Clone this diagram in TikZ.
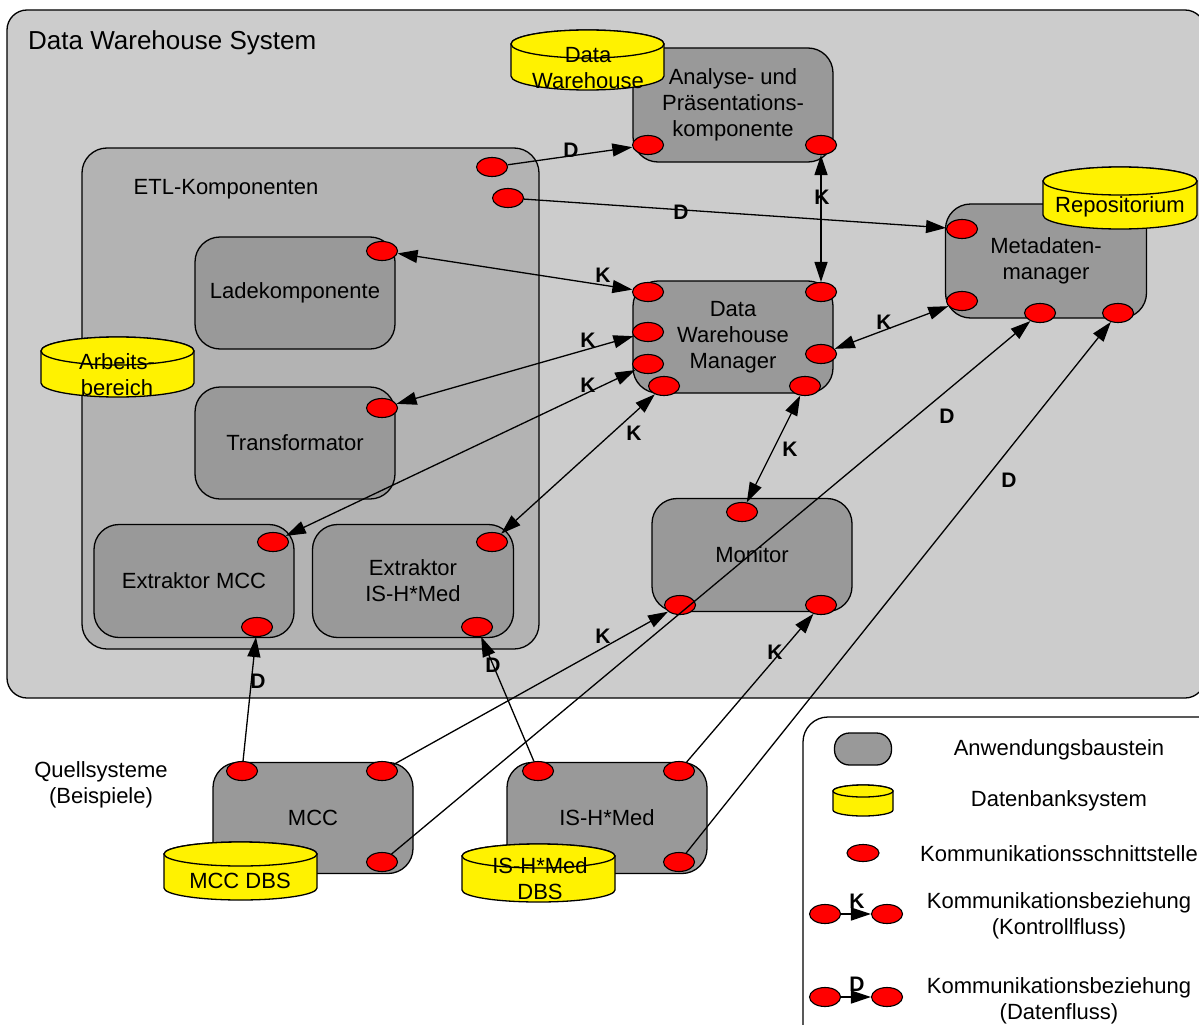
\documentclass[tikz,border=0pt]{standalone}
\usepackage{fontspec}
\setmainfont{Liberation Sans}
\usetikzlibrary{arrows.meta,shapes.geometric}

\definecolor{sysgray}{HTML}{CCCCCC}
\definecolor{etlgray}{HTML}{B3B3B3}
\definecolor{compgray}{HTML}{999999}

\tikzset{
  comp/.style={rectangle, draw=black, line width=1.3pt, fill=compgray, rounded corners=25pt,
    minimum width=200pt, minimum height=112pt, inner sep=0pt, align=center,
    font=\fontsize{22}{26}\selectfont},
  port/.style={ellipse, draw=black, line width=1.1pt, fill=red,
    minimum width=31pt, minimum height=19pt, inner sep=0pt},
  tip/.tip={Triangle[length=20pt,width=13pt]},
  flow/.style={line width=1.3pt, -tip},
  both/.style={line width=1.3pt, tip-tip},
  lbl/.style={font=\fontsize{21}{24}\selectfont\bfseries, inner sep=0pt},
  txt/.style={font=\fontsize{22}{26}\selectfont, align=center, inner sep=0pt},
  dbfill/.style={fill=yellow, draw=black, line width=1.3pt},
}

% database cylinder: left, right, top, bottom, vertical radius of the end caps
\newcommand\dbcyl[5]{%
  \pgfmathsetmacro\dbcx{(#1+#2)/2}%
  \pgfmathsetmacro\dbrx{(#2-#1)/2}%
  \pgfmathsetmacro\dbya{#3+#5}%
  \pgfmathsetmacro\dbyb{#4-#5}%
  \path[dbfill] (#1,\dbya) -- (#1,\dbyb)
    arc[start angle=180, end angle=0, x radius=\dbrx, y radius=#5]
    -- (#2,\dbya)
    arc[start angle=0, end angle=-180, x radius=\dbrx, y radius=#5] -- cycle;
  \path[dbfill] (\dbcx,\dbya) ellipse[x radius=\dbrx, y radius=#5];
}

\begin{document}
\begin{tikzpicture}[x=1pt, y=-1pt]
\useasboundingbox (0,0) rectangle (1199,1025);
\clip (0,0) rectangle (1199,1025);
\fill[white] (0,0) rectangle (1199,1025);

% containers
\draw[fill=sysgray, line width=1.3pt, rounded corners=20pt] (7,10) rectangle (1205,698);
\node[anchor=west, inner sep=0pt, font=\fontsize{26}{30}\selectfont] (systitle) at (28,43) {Data Warehouse System};

\draw[fill=etlgray, line width=1.3pt, rounded corners=25pt] (82,148) rectangle (539,649);
\node[txt] (etltitle) at (226,189) {ETL-Komponenten};

% application components
\node[comp] (lade)  at (295,293) {Ladekomponente};
\node[comp] (trans) at (295,443) {Transformator};
\node[comp, minimum height=113pt] (exm) at (194,581) {Extraktor MCC};
\node[comp, minimum height=113pt, minimum width=201pt] (exi) at (413,581) {Extraktor\\IS-H*Med};
\node[comp, minimum height=114pt] (ana) at (733,105) {Analyse- und\\Präsentations-\\komponente};
\node[comp] (dwm) at (733,337) {Data\\Warehouse\\Manager};
\node[comp, minimum width=201pt, minimum height=114pt] (md) at (1046,261) {Metadaten-\\manager};
\node[comp, minimum height=113pt] (mon) at (752,555) {Monitor};
\node[comp, minimum height=111pt] (mcc) at (313,818) {MCC};
\node[comp, minimum height=111pt] (ish) at (607,818) {IS-H*Med};

% database systems
\dbcyl{511}{664}{30}{90}{14}
\node[txt] (dbdwh) at (588,68) {Data\\Warehouse};
\dbcyl{1043}{1197}{167}{229}{14}
\node[txt] (dbrep) at (1120,207) {Repositorium};
\dbcyl{41}{194}{337}{397}{14}
\node[txt] (dbarb) at (117,375) {Arbeits-\\bereich};
\dbcyl{164}{317}{842}{900}{12}
\node[txt] (dbmcc) at (240,881) {MCC DBS};
\dbcyl{462}{615}{844}{902}{12}
\node[txt] (dbish) at (540,879) {IS-H*Med\\DBS};

\node[txt] (quell) at (101,785) {Quellsysteme\\(Beispiele)};

% communication interfaces
\node[port] (etlA)  at (492,167) {};
\node[port] (etlB)  at (508,198) {};
\node[port] (ladeP) at (382,251) {};
\node[port] (transP) at (382,408) {};
\node[port] (exmT)  at (273,542) {};
\node[port] (exmB)  at (257,627) {};
\node[port] (exiT)  at (492,542) {};
\node[port] (exiB)  at (477,627) {};
\node[port] (anaL)  at (648,145) {};
\node[port] (anaR)  at (821,145) {};
\node[port] (dwTL)  at (648,292) {};
\node[port] (dwL2)  at (648,332) {};
\node[port] (dwL3)  at (648,364) {};
\node[port] (dwBL)  at (664,386) {};
\node[port] (dwTR)  at (821,292) {};
\node[port] (dwR)   at (821,354) {};
\node[port] (dwBR)  at (805,386) {};
\node[port] (mdTL)  at (962,229) {};
\node[port] (mdBL)  at (962,301) {};
\node[port] (mdB1)  at (1040,313) {};
\node[port] (mdB2)  at (1118,313) {};
\node[port] (monT)  at (742,512) {};
\node[port] (monBL) at (680,605) {};
\node[port] (monBR) at (821,605) {};
\node[port] (mccTL) at (242,771) {};
\node[port] (mccTR) at (382,771) {};
\node[port] (mccBR) at (382,862) {};
\node[port] (ishTL) at (538,771) {};
\node[port] (ishTR) at (679,771) {};
\node[port] (ishBR) at (679,862) {};

% communication relations
\draw[flow] (etlA) -- (anaL);
\draw[flow] (etlB) -- (mdTL);
\draw[both] (anaR) -- (dwTR);
\draw[both] (ladeP) -- (dwTL);
\draw[both] (transP) -- (dwL2);
\draw[both] (exmT) -- (dwL3);
\draw[both] (exiT) -- (dwBL);
\draw[both] (dwR) -- (mdBL);
\draw[both] (dwBR) -- (monT);
\draw[flow] (mccTL) -- (exmB);
\draw[flow] (ishTL) -- (exiB);
\draw[flow] (mccTR) -- (monBL);
\draw[flow] (ishTR) -- (monBR);
\draw[flow] (mccBR) -- (mdB1);
\draw[flow] (ishBR) -- (mdB2);

% relation labels
\node[lbl] (l1)  at (571,150) {D};
\node[lbl] (l2)  at (681,212) {D};
\node[lbl] (l3)  at (822,197) {K};
\node[lbl] (l4)  at (603,275) {K};
\node[lbl] (l5)  at (588,340) {K};
\node[lbl] (l6)  at (588,385) {K};
\node[lbl] (l7)  at (634,433) {K};
\node[lbl] (l8)  at (884,322) {K};
\node[lbl] (l9)  at (790,449) {K};
\node[lbl] (l10) at (258,681) {D};
\node[lbl] (l11) at (493,665) {D};
\node[lbl] (l12) at (603,636) {K};
\node[lbl] (l13) at (775,652) {K};
\node[lbl] (l14) at (947,416) {D};
\node[lbl] (l15) at (1009,480) {D};

% legend
\draw[fill=white, line width=1.3pt, rounded corners=25pt] (803,717) rectangle (1240,1060);
\node[rectangle, draw=black, line width=1.3pt, fill=compgray, rounded corners=15pt,
  minimum width=57pt, minimum height=32pt, inner sep=0pt] (lgcomp) at (863,749) {};
\node[txt] (lgcompt) at (1059,750) {Anwendungsbaustein};
\dbcyl{833}{893}{785}{816}{6}
\node[txt] (lgdbt) at (1059,801) {Datenbanksystem};
\node[port, minimum width=32pt, minimum height=17pt] (lgport) at (863,853) {};
\node[txt] (lgportt) at (1059,854) {Kommunikationsschnittstelle};
\node[port] (lgK1) at (825,914) {};
\node[port] (lgK2) at (887,914) {};
\draw[flow] (lgK1) -- (lgK2);
\node[lbl] (lgKl) at (857,901) {K};
\node[txt] (lgKt) at (1059,916) {Kommunikationsbeziehung\\(Kontrollfluss)};
\node[port] (lgD1) at (825,997) {};
\node[port] (lgD2) at (887,997) {};
\draw[flow] (lgD1) -- (lgD2);
\node[lbl] (lgDl) at (857,984) {D};
\node[txt] (lgDt) at (1059,1001) {Kommunikationsbeziehung\\(Datenfluss)};
\end{tikzpicture}
\end{document}
